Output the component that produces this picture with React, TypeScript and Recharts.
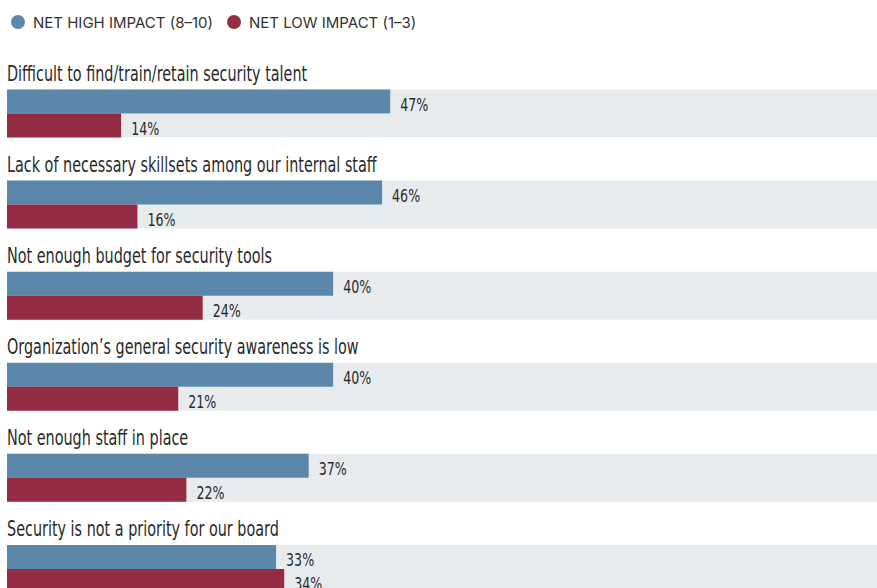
import { BarChart, Bar, XAxis, YAxis, Legend, LabelList } from "recharts";

const categories = [
  "Difficult to find/train/retain security talent",
  "Lack of necessary skillsets among our internal staff",
  "Not enough budget for security tools",
  "Organization’s general security awareness is low",
  "Not enough staff in place",
  "Security is not a priority for our board",
];
const highImpact = [47, 46, 40, 40, 37, 33];
const lowImpact = [14, 16, 24, 21, 22, 34];

const series = [
  { key: "high", name: "NET HIGH IMPACT (8–10)", color: "#5b87aa" },
  { key: "low", name: "NET LOW IMPACT (1–3)", color: "#942d44" },
];

const chartData = categories.map((name, i) => ({
  name,
  high: highImpact[i],
  low: lowImpact[i],
}));

// condensed look: DejaVu Sans Condensed squeezed horizontally
const labelFont = "'DejaVu Sans Condensed', 'DejaVu Sans', sans-serif";
const squeeze = 0.78;

const LegendContent = () => (
  <div
    style={{
      height: 44,
      display: "flex",
      alignItems: "center",
      paddingLeft: 11,
      fontFamily: "Inter, 'Noto Sans', sans-serif",
      fontSize: 15,
      color: "#333",
    }}
  >
    {series.map((s) => (
      <div key={s.key} style={{ display: "flex", alignItems: "center", marginRight: 14 }}>
        <span
          style={{
            display: "inline-block",
            width: 14,
            height: 14,
            borderRadius: 7,
            background: s.color,
            marginRight: 8,
          }}
        />
        <span>{s.name}</span>
      </div>
    ))}
  </div>
);

const CategoryLabel = (props: any) => {
  const { x, y, value } = props;
  return (
    <text
      x={0}
      y={0}
      transform={`translate(${x},${y - 8.5}) scale(${squeeze},1)`}
      fill="#2b2b2b"
      fontSize={20.5}
      fontFamily={labelFont}
    >
      {value}
    </text>
  );
};

const ValueLabel = (props: any) => {
  const { x, y, width, height, value } = props;
  return (
    <text
      x={0}
      y={0}
      transform={`translate(${x + width + 10},${y + height - 3}) scale(${squeeze},1)`}
      fill="#2b2b2b"
      fontSize={18}
      fontFamily={labelFont}
    >
      {value}%
    </text>
  );
};

export default function App() {
  return (
    <div style={{ position: "absolute", left: 0, top: 0, width: 877, height: 588, overflow: "hidden", background: "#fff" }}>
      <BarChart
        width={877}
        height={614}
        data={chartData}
        layout="vertical"
        margin={{ top: 23.5, right: 0, bottom: 0, left: 7 }}
        barGap={0}
        barSize={24}
      >
        <XAxis type="number" domain={[0, 106.7]} hide />
        <YAxis type="category" dataKey="name" hide />
        <Legend
          verticalAlign="top"
          align="left"
          wrapperStyle={{ top: 0, left: 0 }}
          content={<LegendContent />}
        />
        <Bar
          dataKey="high"
          name={series[0].name}
          fill={series[0].color}
          background={{ fill: "#e8ebee" }}
          isAnimationActive={false}
        >
          <LabelList dataKey="name" content={<CategoryLabel />} />
          <LabelList dataKey="high" content={<ValueLabel />} />
        </Bar>
        <Bar
          dataKey="low"
          name={series[1].name}
          fill={series[1].color}
          background={{ fill: "#e8ebee" }}
          isAnimationActive={false}
        >
          <LabelList dataKey="low" content={<ValueLabel />} />
        </Bar>
      </BarChart>
    </div>
  );
}
